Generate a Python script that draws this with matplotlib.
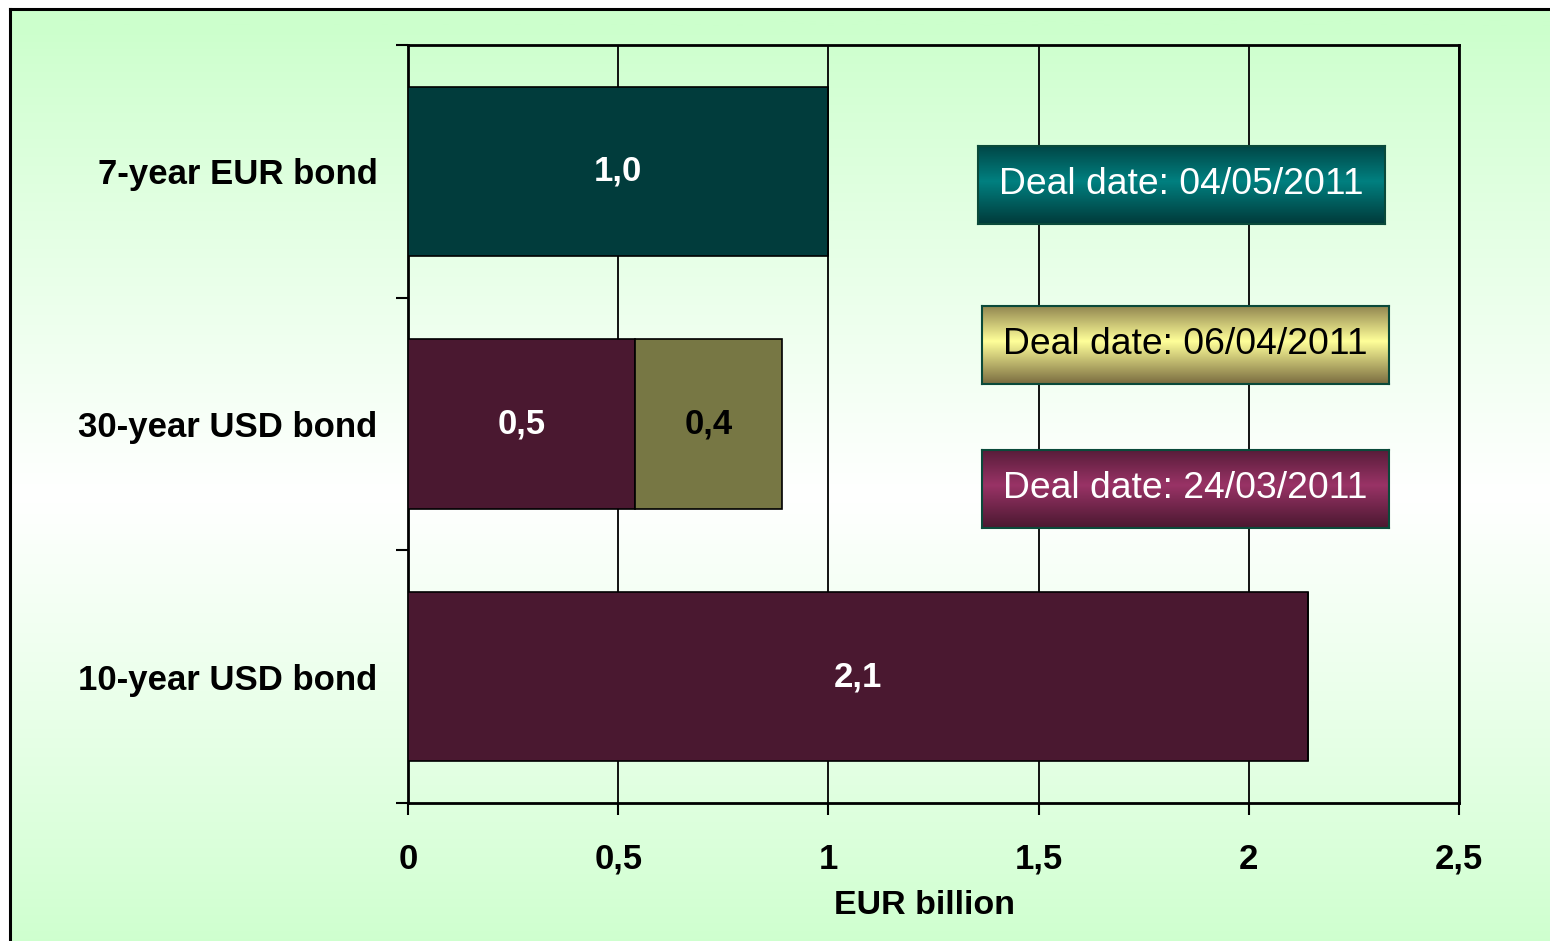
import matplotlib
matplotlib.use("Agg")
import matplotlib.pyplot as plt
import numpy as np
from matplotlib.colors import to_rgb
from matplotlib.lines import Line2D

# ---- data ----
categories = ["7-year EUR bond", "30-year USD bond", "10-year USD bond"]
first_tranche = [1.0, 0.54, 2.14]
second_tranche = [0.0, 0.35, 0.0]
first_labels = ["1,0", "0,5", "2,1"]
second_labels = ["", "0,4", ""]
first_colors = ["#013c3c", "#4a1830", "#4a1830"]
second_color = "#777744"
xticks = [0, 0.5, 1, 1.5, 2, 2.5]
xtick_labels = ["0", "0,5", "1", "1,5", "2", "2,5"]
deal_texts = ["Deal date: 04/05/2011", "Deal date: 06/04/2011", "Deal date: 24/03/2011"]
deal_text_colors = ["white", "black", "white"]
deal_grad = [("#003a3a", "#008080"), ("#7a6c40", "#ffff99"), ("#4a1830", "#993366")]
xlabel = "EUR billion"

W, H = 1550, 941
FONT = "Liberation Sans"
fig = plt.figure(figsize=(W / 100, H / 100), dpi=100)
fig.patch.set_facecolor("white")

def fx(px):
    return px / W

def fy(py):
    return 1 - py / H

# background gradient inside frame
bg = fig.add_axes([fx(10), 0, 1 - fx(10), fy(9)])
t = np.linspace(0, 1, 400)
green = np.array(to_rgb("#ccffcc"))
white = np.array([1.0, 1.0, 1.0])
w = np.clip(1 - np.abs(t - 0.52) / 0.5, 0, 1) ** 0.9
grad = green[None, :] * (1 - w[:, None]) + white[None, :] * w[:, None]
bg.imshow(grad[:, None, :], aspect="auto", extent=[0, 1, 0, 1], origin="upper")
bg.set_axis_off()
bg.set_zorder(-10)

# frame lines
fig.add_artist(Line2D([fx(10), 1], [fy(9), fy(9)], color="black", lw=2.2, transform=fig.transFigure))
fig.add_artist(Line2D([fx(10), fx(10)], [fy(9), 0], color="black", lw=2.2, transform=fig.transFigure))

# main axes
ax = fig.add_axes([fx(408), fy(803), fx(1459) - fx(408), fy(45) - fy(803)])
ax.set_facecolor("none")
y = np.arange(len(categories))
bar_h = 0.67
ax.barh(y, first_tranche, height=bar_h, color=first_colors, edgecolor="black", linewidth=1.2, zorder=3)
ax.barh(y, second_tranche, left=first_tranche, height=bar_h, color=second_color,
        edgecolor="black", linewidth=1.2, zorder=3)

for yi, (v1, v2, l1, l2) in enumerate(zip(first_tranche, second_tranche, first_labels, second_labels)):
    if l1:
        ax.text(v1 / 2, yi, l1, ha="center", va="center", color="white", fontsize=25,
                fontweight="bold", family=FONT, zorder=4)
    if l2:
        ax.text(v1 + v2 / 2, yi, l2, ha="center", va="center", color="black", fontsize=25,
                fontweight="bold", family=FONT, zorder=4)

ax.set_xlim(0, 2.5)
ax.set_ylim(len(categories) - 0.5, -0.5)
ax.set_xticks(xticks)
ax.set_xticklabels(xtick_labels, fontsize=25, fontweight="bold", family=FONT)
ax.set_yticks(y)
ax.set_yticklabels(categories, fontsize=25, fontweight="bold", family=FONT)
ax.set_yticks(np.arange(len(categories) + 1) - 0.5, minor=True)
ax.tick_params(axis="y", which="major", length=0, pad=22)
ax.tick_params(axis="y", which="minor", length=8.5, width=1.5, direction="out")
ax.tick_params(axis="x", which="major", length=8.5, width=1.5, direction="out", pad=20)
ax.grid(axis="x", color="black", linewidth=1.3, zorder=1)
ax.set_axisbelow(True)
for s in ax.spines.values():
    s.set_linewidth(2)
    s.set_color("black")
ax.set_xlabel(xlabel, fontsize=24.5, fontweight="bold", family=FONT, labelpad=8)
ax.xaxis.set_label_coords(0.491, -0.115)

# deal date boxes
boxes_px = [(978, 146, 1385, 224), (982, 306, 1389, 384), (982, 450, 1389, 528)]
for (x0, y0, x1, y1), txt, tc, (edge, mid) in zip(boxes_px, deal_texts, deal_text_colors, deal_grad):
    bax = fig.add_axes([fx(x0), fy(y1), fx(x1) - fx(x0), fy(y0) - fy(y1)])
    tt = np.linspace(0, 1, 200)
    m = np.clip(1 - np.abs(tt - 0.45) / 0.55, 0, 1)
    e = np.array(to_rgb(edge)); c = np.array(to_rgb(mid))
    g = e[None, :] * (1 - m[:, None]) + c[None, :] * m[:, None]
    bax.imshow(g[:, None, :], aspect="auto", extent=[0, 1, 0, 1], origin="upper")
    bax.set_xticks([]); bax.set_yticks([])
    for s in bax.spines.values():
        s.set_color("#0a4a3a")
        s.set_linewidth(1.5)
    bax.text(0.5, 0.5, txt, ha="center", va="center", color=tc, fontsize=26.8,
             family=FONT, transform=bax.transAxes)

fig.savefig("out.png", dpi=100, facecolor="white")
